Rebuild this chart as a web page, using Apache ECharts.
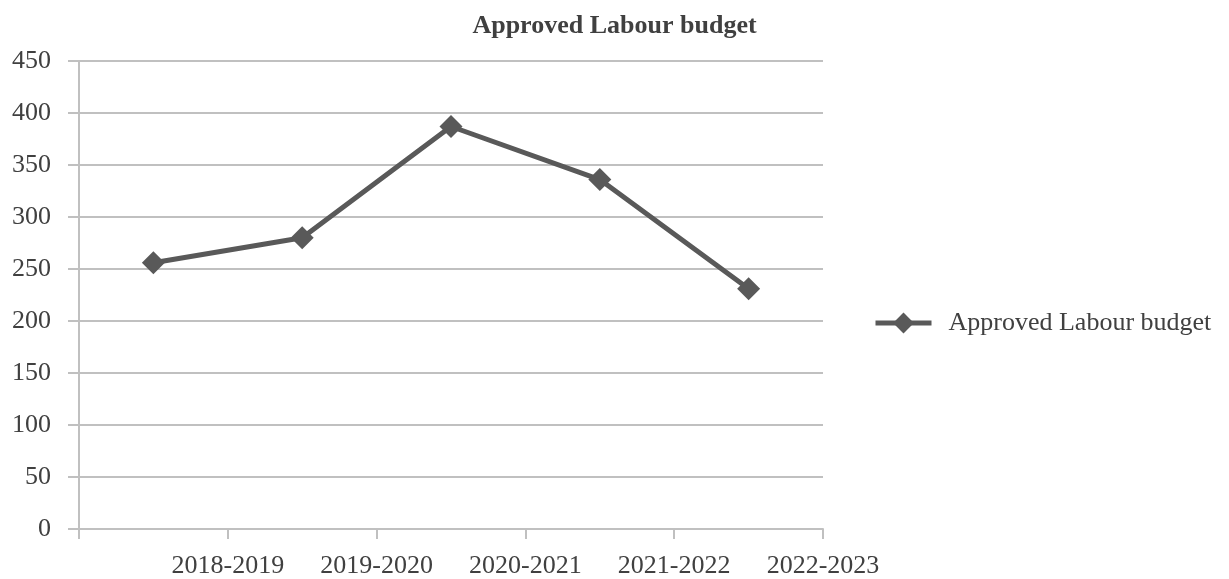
<!DOCTYPE html>
<html>
<head>
<meta charset="utf-8">
<script src="https://cdn.jsdelivr.net/npm/echarts@6/dist/echarts.min.js"></script>
<style>html,body{margin:0;padding:0;background:#fff;}#c{width:1229px;height:579px;}</style>
</head>
<body>
<div id="c"></div>
<script>
const title = 'Approved Labour budget';
const seriesName = 'Approved Labour budget';
const categories = ['2018-2019', '2019-2020', '2020-2021', '2021-2022', '2022-2023'];
const values = [256, 280, 387, 336, 231];
const positions = [0.5, 1.5, 2.5, 3.5, 4.5];

const font = "'Liberation Serif', 'Times New Roman', serif";
const textColor = '#404040';
const gridColor = '#c0c0c0';

const chart = echarts.init(document.getElementById('c'));
chart.setOption({
  backgroundColor: '#fff',
  animation: false,
  title: {
    text: title, left: 'center', top: 8,
    textStyle: { fontFamily: font, fontSize: 26, fontWeight: 'bold', color: textColor }
  },
  legend: {
    left: 868, top: 305, orient: 'vertical',
    itemWidth: 56, itemHeight: 26,
    lineStyle: { width: 5, color: '#595959' },
    textStyle: { fontFamily: font, fontSize: 26, color: textColor, padding: [0, 0, 0, 12] },
    data: [seriesName]
  },
  grid: { left: 79, right: 406, top: 61, bottom: 49, containLabel: false },
  xAxis: {
    type: 'value', min: 0, max: 5, interval: 1,
    axisLine: { show: true, onZero: false, lineStyle: { color: gridColor, width: 2 } },
    axisTick: { show: true, length: 10, lineStyle: { color: gridColor, width: 2 } },
    splitLine: { show: false },
    axisLabel: {
      margin: 24, fontFamily: font, fontSize: 26, color: textColor,
      formatter: v => (v >= 1 && v <= categories.length) ? categories[v - 1] : ''
    }
  },
  yAxis: {
    type: 'value', min: 0, max: 450, interval: 50,
    axisLine: { show: true, lineStyle: { color: gridColor, width: 2 } },
    axisTick: { show: true, length: 11, lineStyle: { color: gridColor, width: 2 } },
    splitLine: { show: true, lineStyle: { color: gridColor, width: 2 } },
    axisLabel: { margin: 28, fontFamily: font, fontSize: 26, color: textColor }
  },
  series: [{
    name: seriesName, type: 'line',
    data: positions.map((p, i) => [p, values[i]]),
    symbol: 'diamond', symbolSize: 23,
    lineStyle: { color: '#595959', width: 5 },
    itemStyle: { color: '#595959' }
  }]
});
</script>
</body>
</html>
